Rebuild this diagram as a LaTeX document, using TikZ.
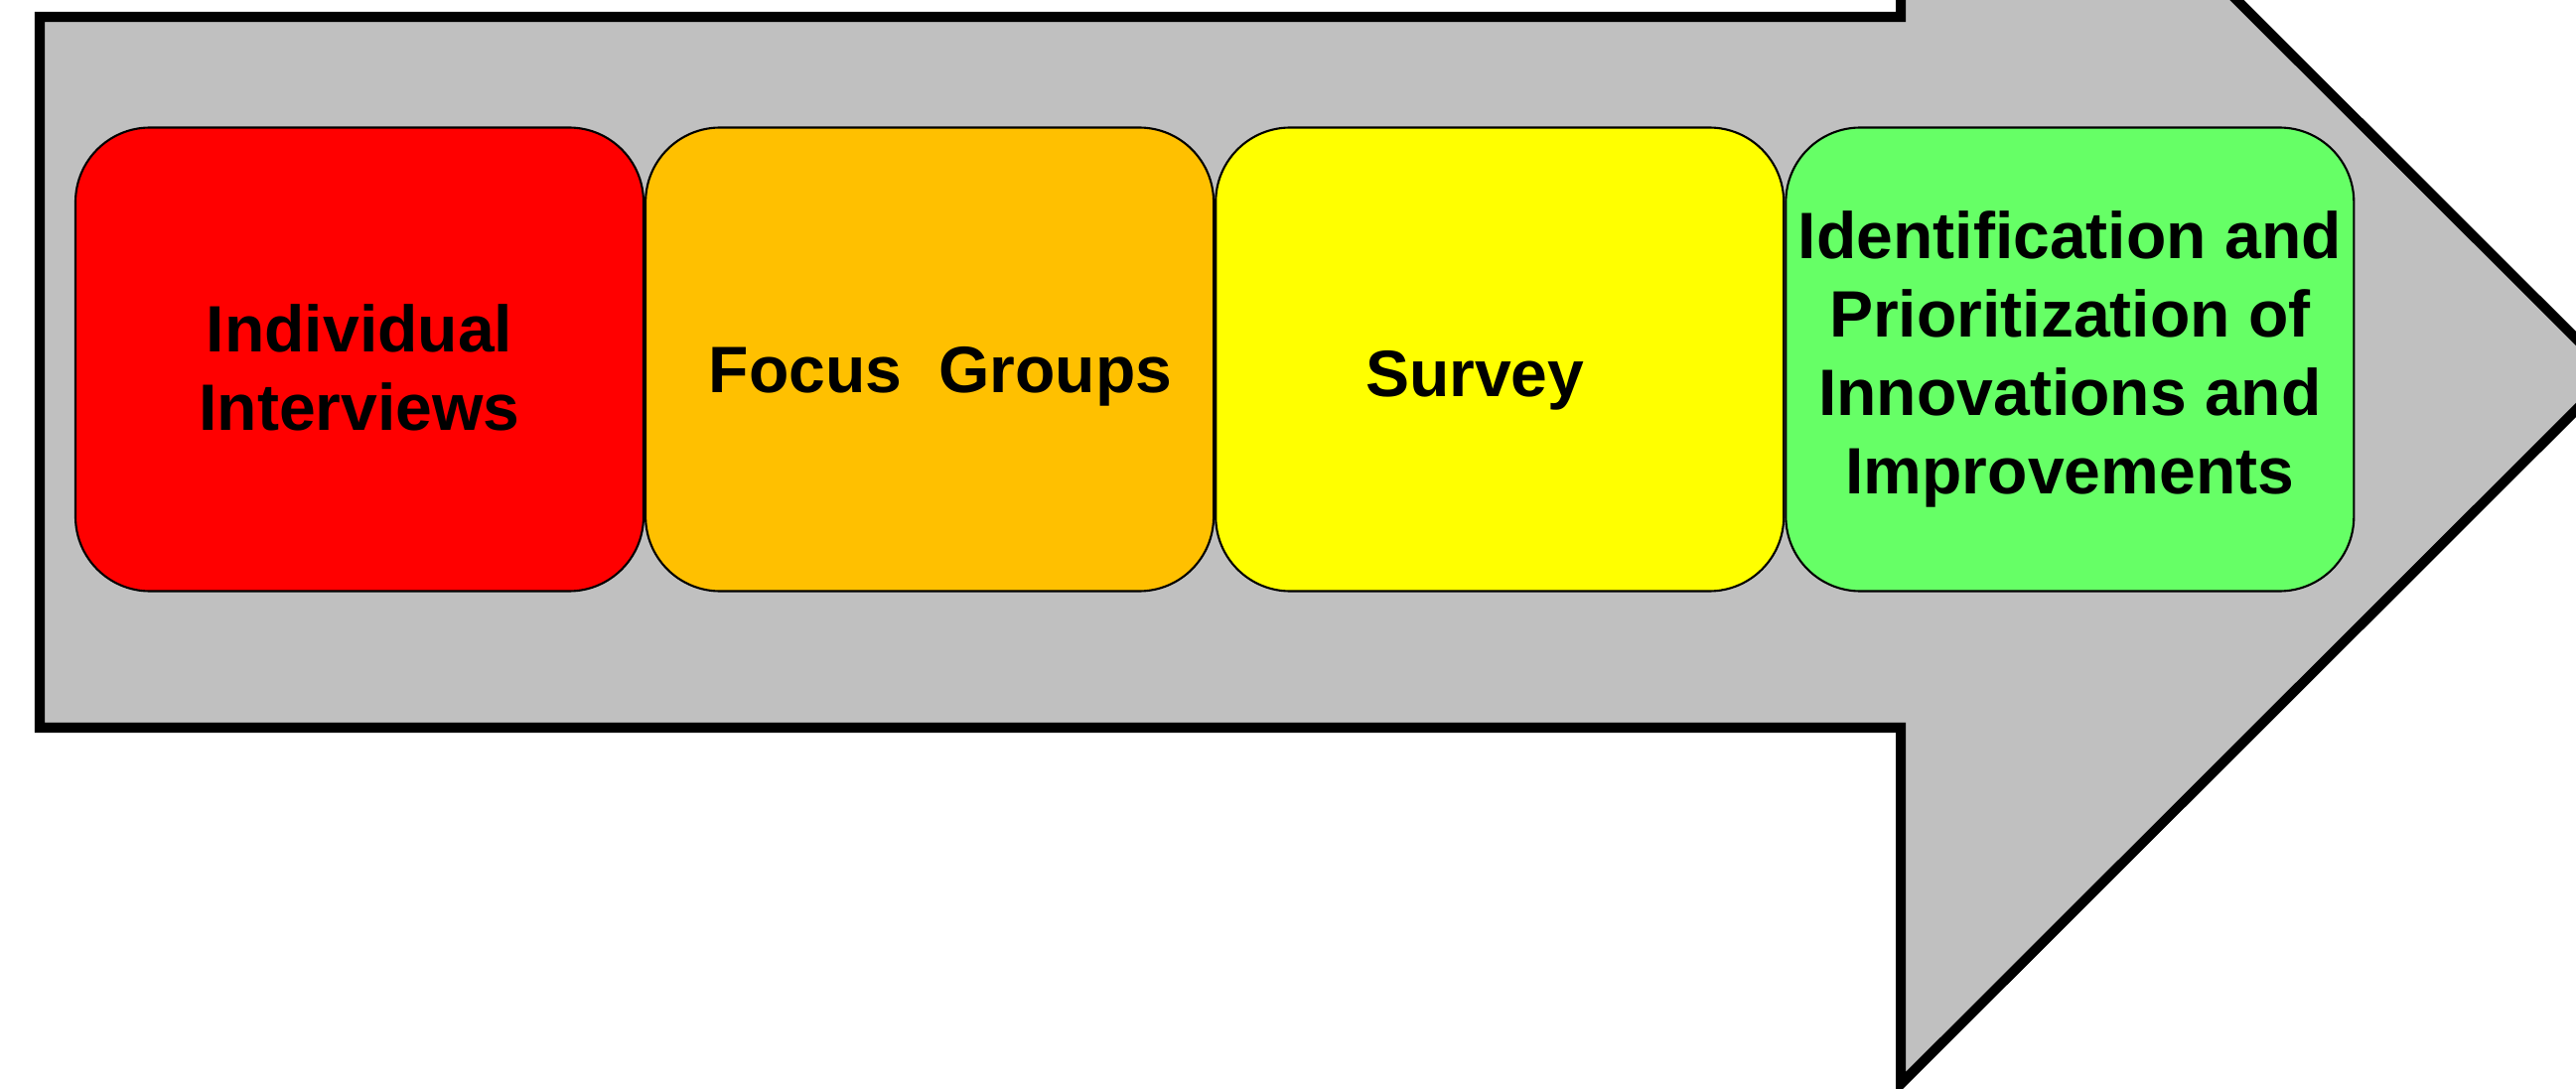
\documentclass[tikz,border=0pt]{standalone}
\usepackage{fontspec}
\setmainfont{Liberation Sans}
\usetikzlibrary{positioning}
\definecolor{arrowgray}{HTML}{C0C0C0}
\definecolor{stagered}{HTML}{FF0000}
\definecolor{stageorange}{HTML}{FFC000}
\definecolor{stageyellow}{HTML}{FFFF00}
\definecolor{stagegreen}{HTML}{66FF66}

\begin{document}
\begin{tikzpicture}[
    stage/.style    = {rectangle, draw, line width=0.6pt, rounded corners=0.75cm,
                       minimum width=5.72cm, minimum height=4.67cm, inner sep=2pt,
                       align=center, font=\fontsize{18.8}{22.5}\selectfont\bfseries},
    bigarrow/.style = {draw, fill=arrowgray, line width=2.85pt, line join=miter}
]
\useasboundingbox (0,0) rectangle (25.94,10.96);
\clip (0,0) rectangle (25.94,10.96);
% big block arrow behind the stages
\draw[bigarrow] (0.40,3.63) -- (0.40,10.79) -- (19.14,10.79) -- (19.14,14.34)
    -- (26.30,7.19) -- (19.14,0.04) -- (19.14,3.63) -- cycle;
\node[stage, fill=stagered, text height=40.8pt]                       (indiv)  at (3.62,7.34) {Individual\\Interviews};
\node[stage, fill=stageorange, text height=23pt, right=0cm of indiv]  (focus)  {\hspace*{0.22cm}Focus\ \ Groups};
\node[stage, fill=stageyellow, text height=25pt, right=0cm of focus]  (survey) {Survey\hspace*{0.5cm}};
\node[stage, fill=stagegreen,  right=0cm of survey]                   (prio)   {Identification and\\Prioritization of\\Innovations and\\Improvements};
\end{tikzpicture}
\end{document}
